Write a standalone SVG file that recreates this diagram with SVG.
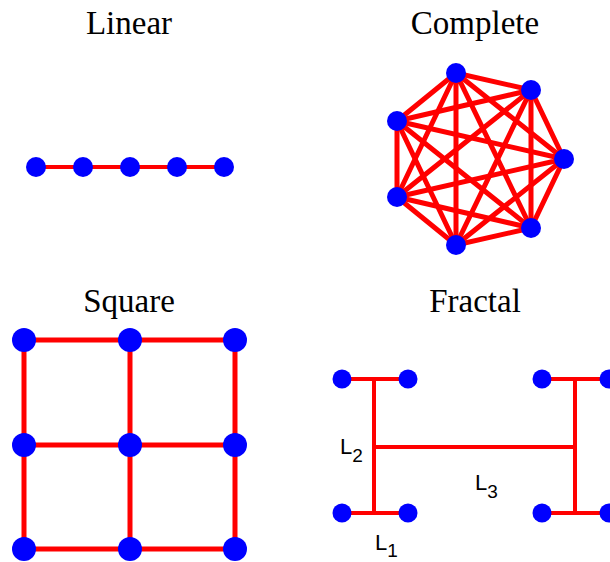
<svg xmlns="http://www.w3.org/2000/svg" width="610" height="562" viewBox="0 0 610 562">
<style>
.title{font-family:"Liberation Serif","DejaVu Serif",serif;font-size:33px;fill:#000;text-anchor:middle}
.lab{font-family:"Liberation Sans",Arial,sans-serif;font-size:22px;fill:#000}
.sub{font-size:19px}
.e{stroke:#ff0000;fill:none;stroke-linecap:butt}
.n{fill:#0000ff}
</style>
<rect width="610" height="562" fill="#fff"/>
<text class="title" x="129" y="34">Linear</text>
<text class="title" x="475" y="34">Complete</text>
<text class="title" x="129" y="312">Square</text>
<text class="title" x="475" y="312">Fractal</text>
<g id="connectors">
  <g class="e" stroke-width="4">
    <line x1="36" y1="167" x2="224" y2="167"/>
  </g>
  <g class="e" stroke-width="5">
    <path d="M564,159 L531,90 L456,73 L397,121 L397,197 L456,245 L531,228 Z"/>
    <path d="M564,159 L456,73 M564,159 L397,121 M564,159 L397,197 M564,159 L456,245"/>
    <path d="M531,90 L397,121 M531,90 L397,197 M531,90 L456,245 M531,90 L531,228"/>
    <path d="M456,73 L397,197 M456,73 L456,245 M456,73 L531,228"/>
    <path d="M397,121 L456,245 M397,121 L531,228"/>
    <path d="M397,197 L531,228"/>
  </g>
  <g class="e" stroke-width="5">
    <path d="M24,340 H235 M24,445 H235 M24,549 H235 M24,340 V549 M130,340 V549 M235,340 V549"/>
  </g>
  <g class="e" stroke-width="4">
    <path d="M342,379 H408 M342,513 H408 M374,379 V513 M374,447 H575 M542,379 H610 M542,513 H610 M575,379 V513"/>
  </g>
</g>
<g id="linear">
  <circle class="n" cx="36" cy="167" r="10"/>
  <circle class="n" cx="83" cy="167" r="10"/>
  <circle class="n" cx="130" cy="167" r="10"/>
  <circle class="n" cx="177" cy="167" r="10"/>
  <circle class="n" cx="224" cy="167" r="10"/>
</g>
<g id="complete">
  <circle class="n" cx="564" cy="159" r="10"/>
  <circle class="n" cx="531" cy="90" r="10"/>
  <circle class="n" cx="456" cy="73" r="10"/>
  <circle class="n" cx="397" cy="121" r="10"/>
  <circle class="n" cx="397" cy="197" r="10"/>
  <circle class="n" cx="456" cy="245" r="10"/>
  <circle class="n" cx="531" cy="228" r="10"/>
</g>
<g id="square">
  <circle class="n" cx="24" cy="340" r="12"/>
  <circle class="n" cx="130" cy="340" r="12"/>
  <circle class="n" cx="235" cy="340" r="12"/>
  <circle class="n" cx="24" cy="445" r="12"/>
  <circle class="n" cx="130" cy="445" r="12"/>
  <circle class="n" cx="235" cy="445" r="12"/>
  <circle class="n" cx="24" cy="549" r="12"/>
  <circle class="n" cx="130" cy="549" r="12"/>
  <circle class="n" cx="235" cy="549" r="12"/>
</g>
<g id="fractal">
  <circle class="n" cx="342" cy="379" r="9.5"/>
  <circle class="n" cx="408" cy="379" r="9.5"/>
  <circle class="n" cx="342" cy="513" r="9.5"/>
  <circle class="n" cx="408" cy="513" r="9.5"/>
  <circle class="n" cx="542" cy="379" r="9.5"/>
  <circle class="n" cx="609" cy="379" r="9.5"/>
  <circle class="n" cx="542" cy="513" r="9.5"/>
  <circle class="n" cx="609" cy="513" r="9.5"/>
</g>
<g id="labels">
  <text class="lab" x="340" y="454">L<tspan class="sub" dy="8">2</tspan></text>
  <text class="lab" x="475" y="490">L<tspan class="sub" dy="8">3</tspan></text>
  <text class="lab" x="375" y="550">L<tspan class="sub" dy="7">1</tspan></text>
</g>
</svg>
